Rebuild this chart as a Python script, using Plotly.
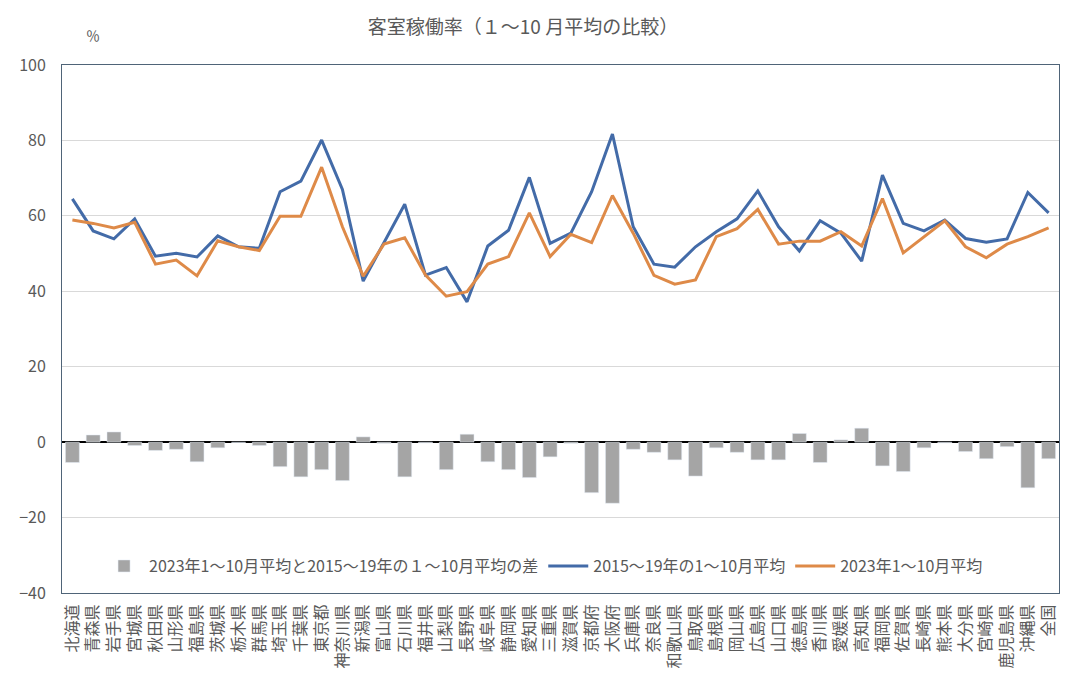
import plotly.graph_objects as go

# 都道府県（横軸）
prefs = ["北海道", "青森県", "岩手県", "宮城県", "秋田県", "山形県", "福島県", "茨城県",
         "栃木県", "群馬県", "埼玉県", "千葉県", "東京都", "神奈川県", "新潟県", "富山県",
         "石川県", "福井県", "山梨県", "長野県", "岐阜県", "静岡県", "愛知県", "三重県",
         "滋賀県", "京都府", "大阪府", "兵庫県", "奈良県", "和歌山県", "鳥取県", "島根県",
         "岡山県", "広島県", "山口県", "徳島県", "香川県", "愛媛県", "高知県", "福岡県",
         "佐賀県", "長崎県", "熊本県", "大分県", "宮崎県", "鹿児島県", "沖縄県", "全国"]

# 2015～19年の1～10月平均
avg_2015_19 = [64.5, 56.0, 53.9, 59.2, 49.3, 50.1, 49.1, 54.7, 51.8, 51.4, 66.4, 69.2,
               80.1, 67.0, 42.7, 52.8, 63.1, 44.3, 46.3, 37.2, 52.0, 56.2, 70.2, 52.7,
               55.4, 66.4, 81.7, 57.1, 47.2, 46.4, 51.8, 55.8, 59.2, 66.6, 57.1, 50.7,
               58.7, 55.4, 48.0, 70.8, 58.0, 56.0, 58.9, 54.0, 53.0, 53.9, 66.2, 60.8]

# 2023年1～10月平均
avg_2023 = [58.9, 58.0, 56.8, 58.3, 47.2, 48.3, 44.1, 53.4, 51.8, 50.8, 59.9, 59.9,
            72.9, 57.1, 44.0, 52.5, 54.2, 44.3, 38.7, 39.9, 47.2, 49.2, 60.8, 49.2,
            55.1, 52.9, 65.4, 55.4, 44.2, 41.9, 43.0, 54.5, 56.6, 61.7, 52.5, 53.3,
            53.3, 55.8, 52.0, 64.6, 50.2, 54.5, 58.7, 51.8, 48.9, 52.5, 54.5, 56.8]

# 差
diff = [-5.4, 1.9, 2.7, -0.9, -2.2, -1.9, -5.2, -1.5, -0.1, -0.9, -6.5, -9.2,
        -7.3, -10.2, 1.4, -0.3, -9.2, -0.2, -7.3, 2.1, -5.2, -7.3, -9.4, -3.9,
        -0.3, -13.4, -16.2, -1.9, -2.7, -4.7, -9.0, -1.5, -2.7, -4.7, -4.7, 2.3,
        -5.4, 0.6, 3.7, -6.3, -7.8, -1.5, -0.2, -2.5, -4.4, -1.2, -12.1, -4.4]

y_ticks = [-40, -20, 0, 20, 40, 60, 80, 100]

font_jp = "Noto Sans CJK JP"
grey_txt = "#595959"
frame = "#4f6478"

# ページ本体の余白（8px）分を差し引いたサイズ
W, H = 1078, 681

fig = go.Figure()

fig.add_trace(go.Bar(
    x=prefs, y=diff,
    name="2023年1～10月平均と2015～19年の１～10月平均の差",
    marker_color="#a5a5a5",
))
fig.add_trace(go.Scatter(
    x=prefs, y=avg_2015_19, mode="lines",
    name="2015～19年の1～10月平均",
    line=dict(color="#436ba8", width=3),
))
fig.add_trace(go.Scatter(
    x=prefs, y=avg_2023, mode="lines",
    name="2023年1～10月平均",
    line=dict(color="#de8a48", width=3),
))

fig.update_layout(
    width=W, height=H,
    paper_bgcolor="white", plot_bgcolor="white",
    font=dict(family=font_jp, color=grey_txt, size=15),
    title=dict(
        text="客室稼働率（１～10 月平均の比較）",
        x=515 / W, xanchor="center", xref="container",
        y=1 - 19 / H, yanchor="middle", yref="container",
        font=dict(size=19, color=grey_txt),
    ),
    margin=dict(l=54, r=27, t=57, b=96),
    bargap=0.33,
    showlegend=True,
    legend=dict(
        orientation="h",
        x=0.483, xanchor="center",
        y=0.051, yanchor="middle",
        bgcolor="rgba(0,0,0,0)",
        font=dict(size=16, color=grey_txt),
        itemwidth=40,
    ),
    annotations=[dict(
        text="％", xref="paper", yref="paper",
        x=0.031, y=1.057, xanchor="center", yanchor="middle",
        showarrow=False,
        font=dict(size=14, color=grey_txt),
    )],
)

fig.update_xaxes(
    tickangle=-90,
    tickfont=dict(size=16, color=grey_txt),
    showline=True, mirror=True, linecolor=frame, linewidth=1,
    ticks="", ticklabelstandoff=4,
)
fig.update_yaxes(
    range=[-40, 100], tickvals=y_ticks,
    showgrid=True, gridcolor="#d9d9d9", gridwidth=1,
    zeroline=True, zerolinecolor="black", zerolinewidth=1.5,
    showline=True, mirror=True, linecolor=frame, linewidth=1,
    tickfont=dict(size=16, color=grey_txt),
    ticks="", ticklabelstandoff=12,
)

fig.write_html("out.html")
